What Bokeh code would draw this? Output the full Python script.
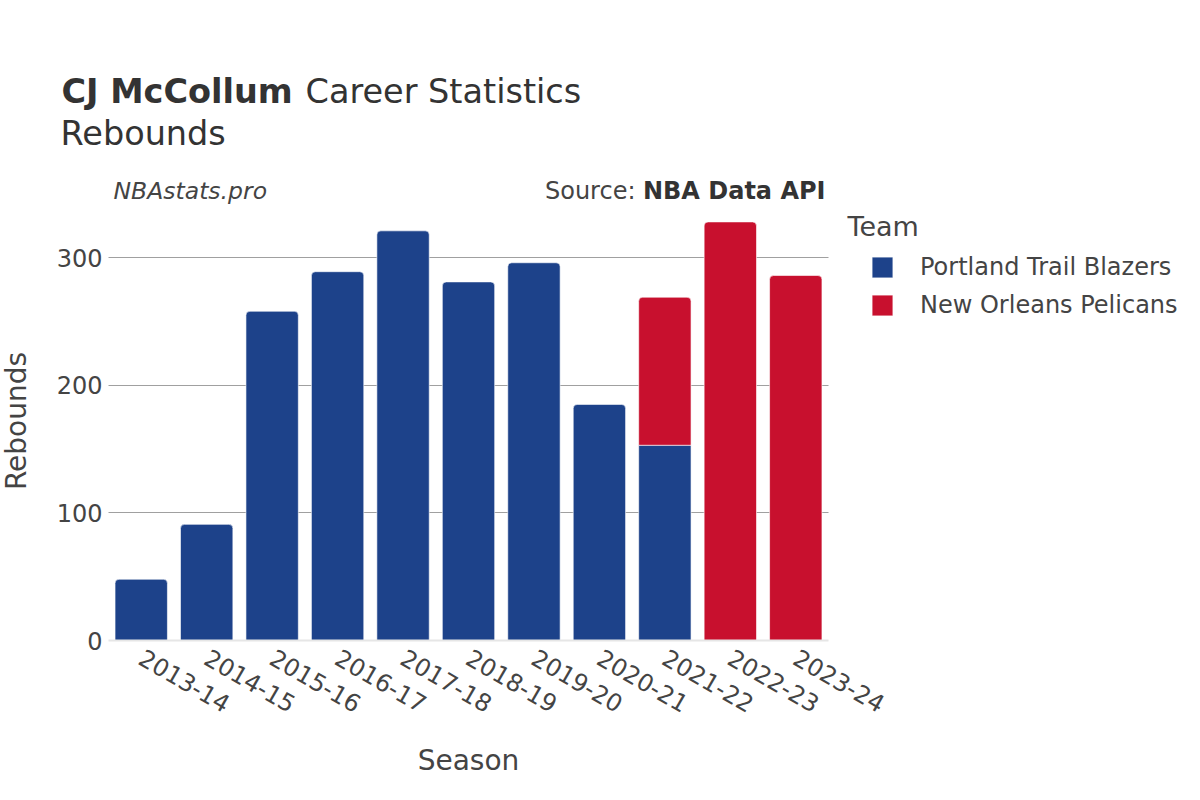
import math
from bokeh.plotting import figure
from bokeh.models import (Range1d, Label, Legend, LegendItem, LinearAxis, FixedTicker, Grid)
from bokeh.embed import file_html
from bokeh.resources import INLINE

# ---- data ----
seasons = ["2013-14", "2014-15", "2015-16", "2016-17", "2017-18", "2018-19",
           "2019-20", "2020-21", "2021-22", "2022-23", "2023-24"]
portland = [48, 91, 258, 289, 321, 281, 296, 185, 153, 0, 0]
pelicans = [0, 0, 0, 0, 0, 0, 0, 0, 116, 328, 286]
teams = ["Portland Trail Blazers", "New Orleans Pelicans"]
colors = ["#1d428a", "#c8102e"]
y_ticks = [0, 100, 200, 300]
y_max = 344

FONT = "DejaVu Sans"
TXT = "#444444"
DARK = "#333333"

# ---- page layout (pixels) ----
W, H = 1200, 800
PLOT_L, PLOT_R, PLOT_B, PLOT_T = 108, 828, 640, 201   # bar area in screen px (from top-left)
n = len(seasons)
px_x = (PLOT_R - PLOT_L) / n
px_y = (PLOT_B - PLOT_T) / y_max
x_start = -0.5 - PLOT_L / px_x
x_end = n - 0.5 + (W - PLOT_R) / px_x
y_start = -(H - PLOT_B) / px_y
y_end = PLOT_B / px_y

p = figure(width=W, height=H, x_range=Range1d(x_start, x_end), y_range=Range1d(y_start, y_end),
           x_axis_type=None, y_axis_type=None, output_backend="svg",
           toolbar_location=None, title=None,
           min_border_left=0, min_border_right=0, min_border_top=0, min_border_bottom=0)
p.outline_line_color = None
p.background_fill_color = "white"
p.border_fill_color = "white"

idx = list(range(n))

# grid lines limited to the bar area
p.add_layout(Grid(dimension=1, ticker=FixedTicker(ticks=y_ticks[1:]),
                  cross_bounds=(-0.5, n - 0.5),
                  grid_line_color="#a0a0a0", grid_line_width=1))

# bars
por_top_x = [i for i, a, b in zip(idx, portland, pelicans) if a > 0 and b == 0]
por_top_v = [a for i, a, b in zip(idx, portland, pelicans) if a > 0 and b == 0]
por_low_x = [i for i, a, b in zip(idx, portland, pelicans) if a > 0 and b > 0]
por_low_v = [a for i, a, b in zip(idx, portland, pelicans) if a > 0 and b > 0]
nop_x = [i for i, a, b in zip(idx, portland, pelicans) if b > 0]
nop_bot = [a for i, a, b in zip(idx, portland, pelicans) if b > 0]
nop_top = [a + b for i, a, b in zip(idx, portland, pelicans) if b > 0]

r_por = p.vbar(x=por_top_x, top=por_top_v, bottom=0, width=0.8,
               fill_color=colors[0], line_color="white", line_width=0.6,
               border_radius=(4, 4, 0, 0))
p.vbar(x=por_low_x, top=por_low_v, bottom=0, width=0.8,
       fill_color=colors[0], line_color="white", line_width=0.6)
r_nop = p.vbar(x=nop_x, top=nop_top, bottom=nop_bot, width=0.8,
               fill_color=colors[1], line_color="white", line_width=0.6,
               border_radius=(4, 4, 0, 0))

# axes (drawn at fixed data locations inside the canvas-sized frame)
xaxis = LinearAxis(fixed_location=0, ticker=FixedTicker(ticks=idx),
                   major_label_overrides={i: s for i, s in zip(idx, seasons)},
                   bounds=(-0.5, n - 0.5))
yaxis = LinearAxis(fixed_location=-0.5, ticker=FixedTicker(ticks=y_ticks),
                   bounds=(0, y_max))
for ax in (xaxis, yaxis):
    ax.major_tick_line_color = None
    ax.minor_tick_line_color = None
    ax.major_label_text_font = FONT
    ax.major_label_text_font_size = "24px"
    ax.major_label_text_color = TXT
    ax.axis_label_text_font = FONT
    ax.axis_label_text_font_size = "28px"
    ax.axis_label_text_font_style = "normal"
    ax.axis_label_text_color = TXT

xaxis.axis_line_color = "#e6e6e6"
xaxis.axis_line_width = 2
xaxis.major_label_orientation = -math.pi / 6
xaxis.major_label_standoff = 9
xaxis.axis_label = "Season"
xaxis.axis_label_standoff = 20

yaxis.axis_line_color = None
yaxis.major_label_standoff = 0
yaxis.axis_label = "Rebounds"
yaxis.axis_label_standoff = 21

p.add_layout(yaxis, "left")
p.add_layout(xaxis, "below")

BASE_FIX = 10  # alphabetic baseline renders lower in the svg backend


# texts (screen units, origin at bottom-left of the canvas)
def lab(text, x, y, size, style="normal", align="left", color=TXT):
    p.add_layout(Label(x=x, y=H - y + BASE_FIX, x_units="screen", y_units="screen", text=text,
                       text_font=FONT, text_font_size=size, text_font_style=style,
                       text_align=align, text_baseline="alphabetic", text_color=color))


lab("CJ McCollum", 61, 101, "33.5px", "bold", color=DARK)
lab("Career Statistics", 305, 101, "33.5px", color=DARK)
lab("Rebounds", 60, 143, "33.5px", color=DARK)
lab("NBAstats.pro", 113, 200, "23.5px", "italic")
lab("NBA Data API", 825, 200, "24px", "bold", align="right", color=DARK)
lab("Source:", 635, 200, "24px", align="right")
lab("Team", 847, 236, "27px")

legend = Legend(items=[LegendItem(label=teams[0], renderers=[r_por]),
                       LegendItem(label=teams[1], renderers=[r_nop])],
                location=(869, H - 319))
legend.background_fill_alpha = 0
legend.border_line_alpha = 0
legend.padding = 0
legend.margin = 0
legend.glyph_width = 26
legend.glyph_height = 26
legend.label_height = 20
legend.label_standoff = 25
legend.spacing = 10
legend.label_text_font = FONT
legend.label_text_font_size = "24px"
legend.label_text_color = TXT
p.add_layout(legend)

open("out.html", "w").write(file_html(p, INLINE))
